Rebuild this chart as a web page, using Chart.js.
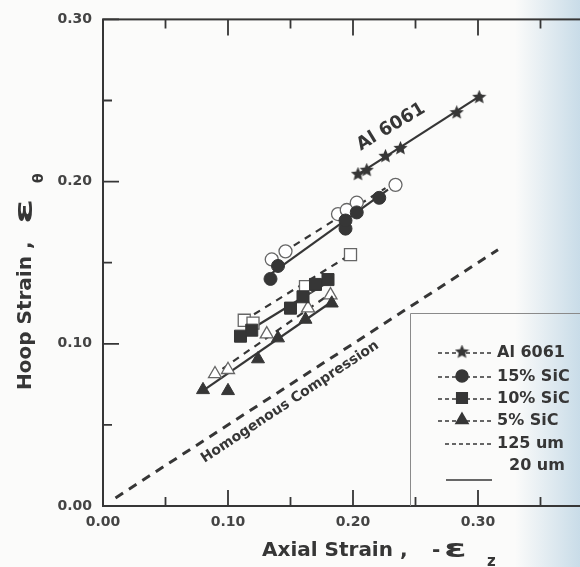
<!DOCTYPE html>
<html><head><meta charset="utf-8">
<script src="https://cdn.jsdelivr.net/npm/chart.js@4.4.1/dist/chart.umd.min.js"></script>
<style>
html,body{margin:0;padding:0;overflow:hidden;width:580px;height:567px;}
body{background:linear-gradient(to right,#fbfbfa 0px,#fbfbfa 515px,#c9dce8 580px);}
canvas{display:block;}
</style></head><body>
<canvas id="c" width="640" height="567"></canvas>
<script>
// ---- data ----
const xTickLabels = ['0.00','0.10','0.20','0.30','0.40'];
const yTickLabels = ['0.00','0.10','0.20','0.30'];

const al6061X = [0.204,0.211,0.226,0.238,0.283,0.301];
const al6061Y = [0.2045,0.207,0.2156,0.2205,0.2425,0.252];
const al6061FitX = [0.204,0.303];
const al6061FitY = [0.2045,0.2535];

const sic15X = [0.134,0.140,0.194,0.194,0.203,0.221];
const sic15Y = [0.140,0.148,0.171,0.176,0.181,0.190];
const sic15FitX = [0.134,0.228];
const sic15FitY = [0.143,0.195];
const sic15OpenX = [0.135,0.146,0.188,0.195,0.203,0.234];
const sic15OpenY = [0.152,0.157,0.180,0.1825,0.187,0.198];
const sic15OpenFitX = [0.135,0.226];
const sic15OpenFitY = [0.152,0.196];

const sic10X = [0.110,0.119,0.150,0.160,0.170,0.180];
const sic10Y = [0.1047,0.1084,0.122,0.129,0.1366,0.1396];
const sic10FitX = [0.110,0.182];
const sic10FitY = [0.105,0.139];
const sic10OpenX = [0.113,0.120,0.162,0.198];
const sic10OpenY = [0.1145,0.1127,0.1353,0.155];
const sic10OpenFitX = [0.112,0.198];
const sic10OpenFitY = [0.114,0.155];

const sic5X = [0.080,0.100,0.124,0.140,0.162,0.183];
const sic5Y = [0.0716,0.071,0.0906,0.1035,0.115,0.125];
const sic5FitX = [0.078,0.185];
const sic5FitY = [0.070,0.127];
const sic5OpenX = [0.0896,0.100,0.131,0.164,0.182];
const sic5OpenY = [0.0814,0.084,0.106,0.122,0.130];
const sic5OpenFitX = [0.087,0.184];
const sic5OpenFitY = [0.080,0.132];

const homogX = [0.010,0.316];
const homogY = [0.005,0.158];

const legendLabels = ['Al 6061','15% SiC','10% SiC','5% SiC','125 um','20 um'];

// ---- styles ----
const INK = '#363636';
const OPEN = '#666666';
const pts = (xs, ys) => xs.map((x, i) => ({x, y: ys[i]}));

function makeStar(size, color) {
  const c = document.createElement('canvas');
  c.width = size; c.height = size;
  const g = c.getContext('2d');
  const cx = size/2, cy = size/2, R = size/2, r = R*0.45;
  g.beginPath();
  for (let i = 0; i < 10; i++) {
    const a = -Math.PI/2 + i*Math.PI/5;
    const rr = i % 2 ? r : R;
    g.lineTo(cx + rr*Math.cos(a), cy + rr*Math.sin(a));
  }
  g.closePath();
  g.fillStyle = color; g.fill();
  return c;
}
const starImg = makeStar(15, INK);

function lineDs(xs, ys, dash, width) {
  return {data: pts(xs, ys), showLine: true, borderColor: INK, borderWidth: width || 2.2,
          borderDash: dash || [], pointRadius: 0, fill: false, order: 2};
}
function ptDs(xs, ys, style, r, open) {
  return {data: pts(xs, ys), showLine: false, pointStyle: style, pointRadius: r,
          pointBackgroundColor: open ? '#ffffff' : INK, pointBorderColor: open ? OPEN : INK,
          pointBorderWidth: open ? 1.3 : 1, order: open ? 1 : 0};
}

const datasets = [
  lineDs(homogX, homogY, [9, 7], 3),
  lineDs(al6061FitX, al6061FitY),
  lineDs(sic15FitX, sic15FitY),
  lineDs(sic15OpenFitX, sic15OpenFitY, [7, 6]),
  lineDs(sic10FitX, sic10FitY),
  lineDs(sic10OpenFitX, sic10OpenFitY, [7, 6]),
  lineDs(sic5FitX, sic5FitY),
  lineDs(sic5OpenFitX, sic5OpenFitY, [7, 6]),
  ptDs(sic15OpenX, sic15OpenY, 'circle', 6.5, true),
  ptDs(sic10OpenX, sic10OpenY, 'rect', 8.5, true),
  ptDs(sic5OpenX, sic5OpenY, 'triangle', 7.5, true),
  ptDs(al6061X, al6061Y, starImg, 7.5, false),
  ptDs(sic15X, sic15Y, 'circle', 6.5, false),
  ptDs(sic10X, sic10Y, 'rect', 8.5, false),
  ptDs(sic5X, sic5Y, 'triangle', 7.5, false),
];

const TICKFONT = {family: 'DejaVu Sans', size: 14, weight: 'bold'};
const isMajor = v => Math.abs(Math.round(v*10) - v*10) < 1e-6;

const framePlugin = {
  id: 'frame',
  beforeDatasetsDraw(chart) {
    const {ctx, chartArea: a, scales: {x, y}} = chart;
    ctx.save();
    ctx.strokeStyle = INK; ctx.lineWidth = 2;
    ctx.strokeRect(a.left, a.top, a.right - a.left, a.bottom - a.top);
    ctx.lineWidth = 1.8;
    ctx.beginPath();
    x.ticks.forEach(t => {
      const px = x.getPixelForValue(t.value);
      const L = isMajor(t.value) ? 16 : 9;
      ctx.moveTo(px, a.bottom); ctx.lineTo(px, a.bottom - L);
      ctx.moveTo(px, a.top); ctx.lineTo(px, a.top + L);
    });
    y.ticks.forEach(t => {
      const py = y.getPixelForValue(t.value);
      const L = isMajor(t.value) ? 16 : 9;
      ctx.moveTo(a.left, py); ctx.lineTo(a.left + L, py);
      ctx.moveTo(a.right, py); ctx.lineTo(a.right - L, py);
    });
    ctx.stroke();
    ctx.restore();
  },
  afterDraw(chart) {
    const {ctx, chartArea: a} = chart;
    ctx.save();
    // legend box
    ctx.strokeStyle = '#8a8a8a'; ctx.lineWidth = 1;
    ctx.beginPath();
    ctx.moveTo(410.5, a.bottom); ctx.lineTo(410.5, 313.5); ctx.lineTo(chart.width, 313.5);
    ctx.stroke();
    const rows = [352, 376, 398, 420, 443, 465];
    const styles = [starImg, 'circle', 'rect', 'triangle', null, null];
    const radii = [7.5, 6, 7.5, 7];
    ctx.strokeStyle = INK; ctx.fillStyle = INK;
    for (let i = 0; i < 6; i++) {
      const yy = rows[i];
      ctx.lineWidth = 1.5;
      if (i < 5) {
        ctx.setLineDash([4, 3]);
        ctx.beginPath(); ctx.moveTo(i === 4 ? 445 : 438, yy + 1); ctx.lineTo(494, yy + 1); ctx.stroke();
        ctx.setLineDash([]);
      } else {
        ctx.beginPath(); ctx.moveTo(446, 480); ctx.lineTo(492, 480); ctx.stroke();
      }
      if (styles[i]) {
        Chart.helpers.drawPoint(ctx, {pointStyle: styles[i], radius: radii[i], rotation: 0, borderWidth: 1}, 462, yy);
      }
      ctx.font = 'bold 16px "DejaVu Sans"';
      ctx.fillStyle = INK;
      ctx.textBaseline = 'middle'; ctx.textAlign = 'left';
      ctx.fillText(legendLabels[i], i === 5 ? 509 : 497, yy + 1);
    }
    // annotations
    ctx.fillStyle = INK;
    ctx.textAlign = 'center'; ctx.textBaseline = 'middle';
    ctx.save();
    ctx.translate(391, 127); ctx.rotate(-31 * Math.PI / 180);
    ctx.font = 'bold 18px "DejaVu Sans"';
    ctx.fillText('Al 6061', 0, 0);
    ctx.restore();
    ctx.save();
    ctx.translate(290, 402); ctx.rotate(-33.5 * Math.PI / 180);
    ctx.font = 'bold 14px "DejaVu Sans"';
    ctx.fillText('Homogenous Compression', 0, 0);
    ctx.restore();
    // axis titles
    ctx.textAlign = 'left'; ctx.textBaseline = 'alphabetic';
    ctx.font = 'bold 20px "DejaVu Sans"';
    ctx.fillText('Axial Strain ,', 262, 556);
    ctx.fillText('-', 432, 556);
    ctx.save();
    ctx.translate(444, 557); ctx.scale(1.7, 1);
    ctx.font = 'bold 24px "DejaVu Sans"';
    ctx.fillText('ε', 0, 0);
    ctx.restore();
    ctx.font = 'bold 15px "DejaVu Sans"';
    ctx.fillText('z', 487, 566);
    ctx.save();
    ctx.translate(31, 390); ctx.rotate(-Math.PI / 2);
    ctx.font = 'bold 20px "DejaVu Sans"';
    ctx.fillText('Hoop Strain ,', 0, 0);
    ctx.save();
    ctx.translate(166, 1); ctx.scale(1.9, 1);
    ctx.font = 'bold 24px "DejaVu Sans"';
    ctx.fillText('ε', 0, 0);
    ctx.restore();
    ctx.font = 'bold 14px "DejaVu Sans"';
    ctx.fillText('θ', 207, 12);
    ctx.restore();
    ctx.restore();
  }
};

new Chart(document.getElementById('c'), {
  type: 'scatter',
  data: {datasets},
  plugins: [framePlugin],
  options: {
    responsive: false, animation: false,
    layout: {padding: {top: 16, right: 37, left: 0, bottom: 0}},
    plugins: {legend: {display: false}, tooltip: {enabled: false}},
    scales: {
      x: {
        type: 'linear', min: 0, max: 0.4,
        grid: {display: false, drawTicks: false}, border: {display: false},
        ticks: {stepSize: 0.05, autoSkip: false, maxRotation: 0, padding: 8, color: '#444', font: TICKFONT,
                callback: v => isMajor(v) ? xTickLabels[Math.round(v*10)] : ''},
        afterFit: s => { s.height = 61; }
      },
      y: {
        type: 'linear', min: 0, max: 0.3,
        grid: {display: false, drawTicks: false}, border: {display: false},
        ticks: {stepSize: 0.05, autoSkip: false, padding: 11, color: '#444', font: TICKFONT,
                callback: v => isMajor(v) ? yTickLabels[Math.round(v*10)] : ''},
        afterFit: s => { s.width = 103; }
      }
    }
  }
});
</script>
</body></html>
